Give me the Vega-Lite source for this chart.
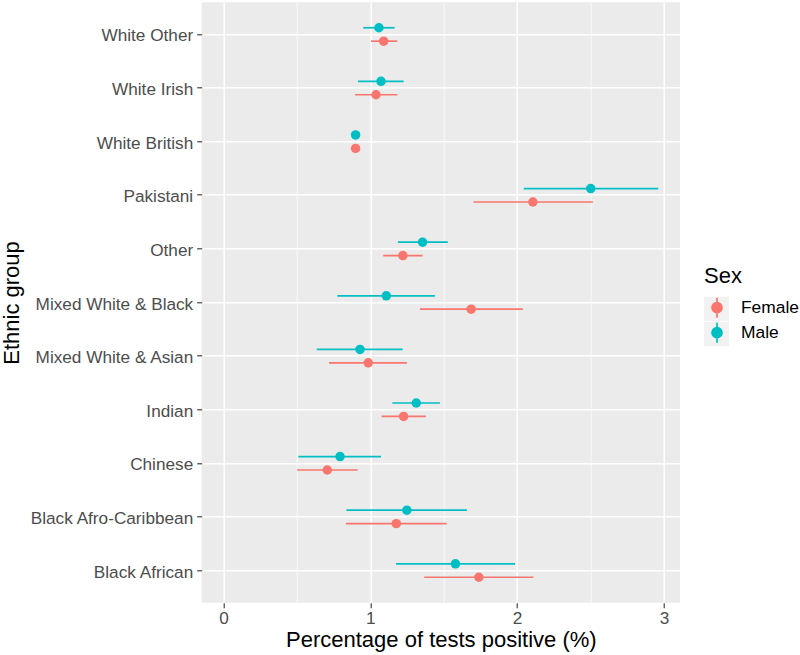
{
  "$schema": "https://vega.github.io/schema/vega-lite/v6.json",
  "width": 478.3,
  "height": 600.4,
  "autosize": {"type": "none"},
  "padding": {"left": 201.7, "top": 2.3, "right": 120, "bottom": 52.3},
  "background": "white",
  "data": {
    "values": [
      {"group": "White Other", "sex": "Male", "est": 1.059, "lo": 0.952, "hi": 1.166},
      {"group": "White Other", "sex": "Female", "est": 1.091, "lo": 1.005, "hi": 1.184},
      {"group": "White Irish", "sex": "Male", "est": 1.073, "lo": 0.916, "hi": 1.227},
      {"group": "White Irish", "sex": "Female", "est": 1.039, "lo": 0.896, "hi": 1.184},
      {"group": "White British", "sex": "Male", "est": 0.9, "lo": 0.885, "hi": 0.915},
      {"group": "White British", "sex": "Female", "est": 0.9, "lo": 0.885, "hi": 0.915},
      {"group": "Pakistani", "sex": "Male", "est": 2.501, "lo": 2.045, "hi": 2.961},
      {"group": "Pakistani", "sex": "Female", "est": 2.107, "lo": 1.703, "hi": 2.515},
      {"group": "Other", "sex": "Male", "est": 1.356, "lo": 1.188, "hi": 1.528},
      {"group": "Other", "sex": "Female", "est": 1.222, "lo": 1.088, "hi": 1.356},
      {"group": "Mixed White & Black", "sex": "Male", "est": 1.109, "lo": 0.776, "hi": 1.44},
      {"group": "Mixed White & Black", "sex": "Female", "est": 1.687, "lo": 1.338, "hi": 2.039},
      {"group": "Mixed White & Asian", "sex": "Male", "est": 0.93, "lo": 0.635, "hi": 1.22},
      {"group": "Mixed White & Asian", "sex": "Female", "est": 0.986, "lo": 0.719, "hi": 1.249},
      {"group": "Indian", "sex": "Male", "est": 1.313, "lo": 1.15, "hi": 1.474},
      {"group": "Indian", "sex": "Female", "est": 1.227, "lo": 1.077, "hi": 1.379},
      {"group": "Chinese", "sex": "Male", "est": 0.794, "lo": 0.51, "hi": 1.073},
      {"group": "Chinese", "sex": "Female", "est": 0.707, "lo": 0.501, "hi": 0.914},
      {"group": "Black Afro-Caribbean", "sex": "Male", "est": 1.249, "lo": 0.837, "hi": 1.658},
      {"group": "Black Afro-Caribbean", "sex": "Female", "est": 1.177, "lo": 0.834, "hi": 1.519},
      {"group": "Black African", "sex": "Male", "est": 1.58, "lo": 1.175, "hi": 1.986},
      {"group": "Black African", "sex": "Female", "est": 1.739, "lo": 1.367, "hi": 2.111}
    ]
  },
  "encoding": {
    "y": {
      "field": "group",
      "type": "nominal",
      "sort": ["White Other", "White Irish", "White British", "Pakistani", "Other", "Mixed White & Black", "Mixed White & Asian", "Indian", "Chinese", "Black Afro-Caribbean", "Black African"],
      "scale": {"paddingInner": 0, "paddingOuter": 0.1},
      "axis": {
        "title": "Ethnic group",
        "bandPosition": 0.5,
        "domain": false,
        "grid": true,
        "gridColor": "white",
        "gridWidth": 1.5,
        "tickColor": "#333333",
        "tickWidth": 1.1,
        "tickSize": 5,
        "labelFontSize": 17.2,
        "labelColor": "#4D4D4D",
        "labelPadding": 4,
        "labelOffset": 2,
        "titleFontSize": 22,
        "titleFontWeight": "normal",
        "titleColor": "black",
        "titlePadding": 6
      }
    },
    "yOffset": {
      "field": "sex",
      "type": "nominal",
      "scale": {"domain": ["Male", "Female"], "range": [13.4, 40.2]}
    },
    "color": {
      "field": "sex",
      "type": "nominal",
      "scale": {"domain": ["Female", "Male"], "range": ["#F8766D", "#00BFC4"]},
      "legend": {
        "title": "Sex",
        "orient": "none",
        "legendX": 502.3,
        "legendY": 264,
        "padding": 0,
        "titleFontSize": 22,
        "titleFontWeight": "normal",
        "titleColor": "black",
        "titlePadding": 8.4,
        "labelFontSize": 17.4,
        "labelColor": "black",
        "labelOffset": 13,
        "symbolType": "M0,-1L0,1M-0.5,0A0.5,0.5,0,1,0,0.5,0A0.5,0.5,0,1,0,-0.5,0Z",
        "symbolSize": 400,
        "symbolStrokeWidth": 1.7,
        "symbolOpacity": 1,
        "symbolOffset": 2,
        "rowPadding": -3,
        "encode": {
          "symbols": {"update": {"stroke": {"scale": "color", "field": "value"}}},
          "entries": {"update": {
            "fill": {"value": {"gradient": "linear", "x1": 0, "x2": 1, "y1": 0, "y2": 0, "stops": [
              {"offset": 0, "color": "#F2F2F2"},
              {"offset": 0.258, "color": "#F2F2F2"},
              {"offset": 0.259, "color": "#FFFFFF"},
              {"offset": 1, "color": "#FFFFFF"}
            ]}},
            "height": {"value": 24}
          }}
        }
      }
    }
  },
  "layer": [
    {
      "mark": {"type": "rule", "strokeWidth": 1.7},
      "encoding": {
        "x": {
          "field": "lo",
          "type": "quantitative",
          "scale": {"domain": [-0.148, 3.109], "nice": false, "zero": false},
          "axis": {
            "title": "Percentage of tests positive (%)",
            "values": [0, 0.5, 1, 1.5, 2, 2.5, 3],
            "labelExpr": "datum.value % 1 === 0 ? format(datum.value, 'd') : ''",
            "domain": false,
            "grid": true,
            "gridColor": "white",
            "gridWidth": {"condition": {"test": "datum.value % 1 === 0", "value": 1.5}, "value": 0.75},
            "tickColor": "#333333",
            "tickWidth": 1.1,
            "tickSize": 5,
            "tickOpacity": {"condition": {"test": "datum.value % 1 === 0", "value": 1}, "value": 0},
            "labelFontSize": 17.2,
            "labelColor": "#4D4D4D",
            "labelPadding": 2,
            "labelFlush": false,
            "titleFontSize": 22,
            "titleFontWeight": "normal",
            "titleColor": "black",
            "titlePadding": 3
          }
        },
        "x2": {"field": "hi"}
      }
    },
    {
      "mark": {"type": "point", "filled": true, "size": 90, "opacity": 1},
      "encoding": {
        "x": {"field": "est", "type": "quantitative", "title": "Percentage of tests positive (%)"}
      }
    }
  ],
  "config": {
    "font": "Liberation Sans",
    "view": {"fill": "#EBEBEB", "stroke": null},
    "axis": {"labelFont": "Liberation Sans", "titleFont": "Liberation Sans"}
  }
}
